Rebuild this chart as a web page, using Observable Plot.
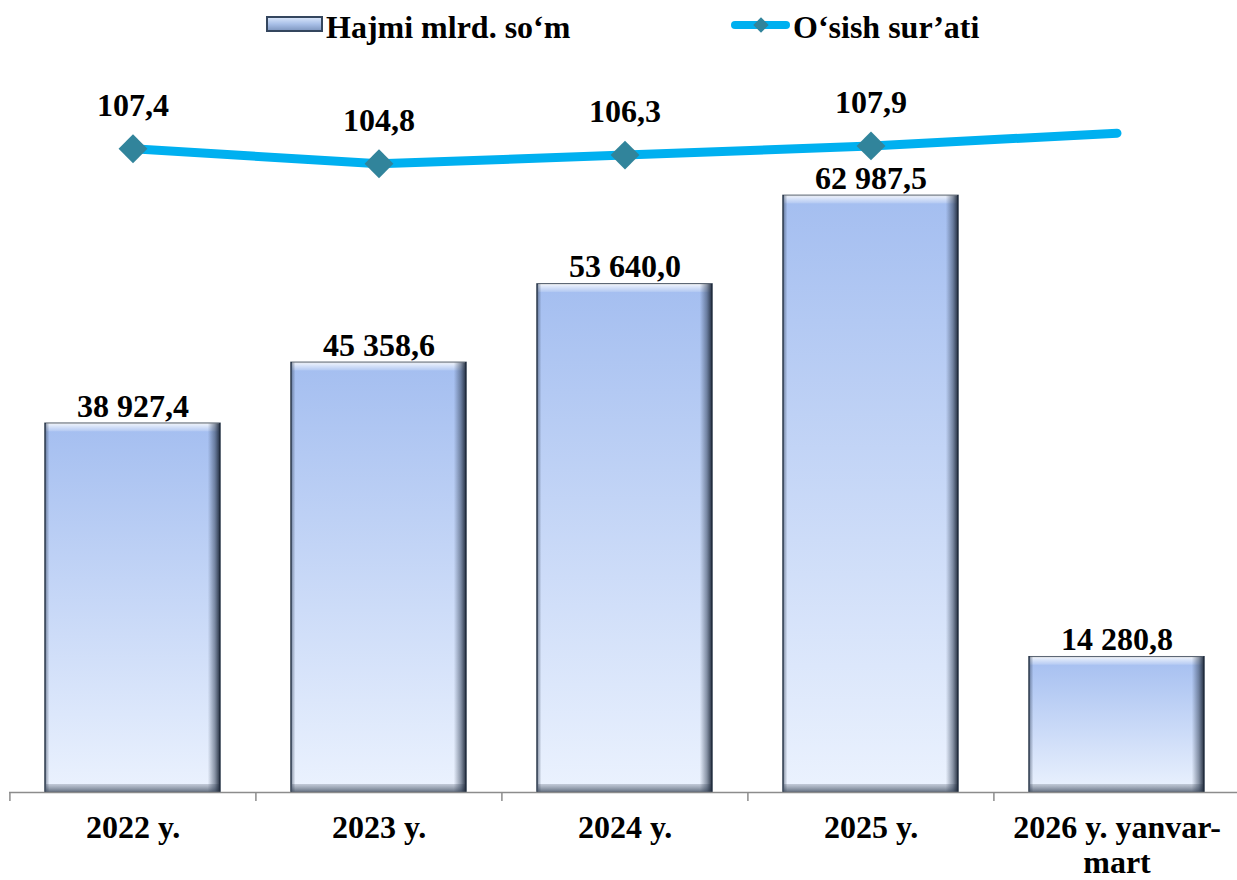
<!DOCTYPE html>
<html>
<head>
<meta charset="utf-8">
<script src="https://cdn.jsdelivr.net/npm/d3@7"></script>
<script src="https://cdn.jsdelivr.net/npm/@observablehq/plot@0.6"></script>
<style>
  html, body { margin: 0; padding: 0; background: #fff; overflow: hidden; }
  #legend { display: block; height: 60px; }
  #legend svg, #chart svg { display: block; }
</style>
</head>
<body>
<div id="legend"></div>
<div id="chart"></div>
<script>
// ---- Data ----
const categories = ["2022 y.", "2023 y.", "2024 y.", "2025 y.", "2026 y. yanvar-\nmart"];
const volume = [38927.4, 45358.6, 53640.0, 62987.5, 14280.8];   // Hajmi mlrd. so‘m
const growth = [107.4, 104.8, 106.3, 107.9, 110.1];             // O‘sish sur’ati
const growthLabeled = [true, true, true, true, false];
const seriesNames = ["Hajmi mlrd. so‘m", "O‘sish sur’ati"];

// ---- Formatting ----
const loc = d3.formatLocale({decimal: ",", thousands: " ", grouping: [3], currency: ["", ""]});
const fmtVol = loc.format(",.1f");
const fmtG = loc.format(".1f");

// secondary axis (growth rate) mapped onto the primary bar axis
const growthToBar = d3.scaleLinear().domain([104.8, 107.4]).range([66382, 67965]);

const rows = categories.map((c, i) => ({
  cat: c, vol: volume[i], g: growth[i], gy: growthToBar(growth[i]), labeled: growthLabeled[i]
}));

const FONT = "'Liberation Serif','Times New Roman',serif";
const W = 1237, H = 820, ML = 9, MR = -3, MT = 69, MB = 88;
const paddingInner = 0.29, paddingOuter = 0.145;
const step = (W - ML - MR) / (categories.length - paddingInner + 2 * paddingOuter);

const defsMark = () => {
  const g = document.createElementNS("http://www.w3.org/2000/svg", "g");
  g.innerHTML = `<defs>
    <linearGradient id="barGrad" x1="0" y1="0" x2="0" y2="1">
      <stop offset="0" stop-color="#a4bef0"/>
      <stop offset="1" stop-color="#ebf2fe"/>
    </linearGradient>
    <linearGradient id="topBevel" x1="0" y1="0" x2="0" y2="1">
      <stop offset="0" stop-color="#ffffff" stop-opacity="0.85"/>
      <stop offset="1" stop-color="#ffffff" stop-opacity="0.15"/>
    </linearGradient>
    <linearGradient id="botBevel" x1="0" y1="0" x2="0" y2="1">
      <stop offset="0" stop-color="#a7b0be" stop-opacity="0.6"/>
      <stop offset="1" stop-color="#5a6678" stop-opacity="0.95"/>
    </linearGradient>
    <linearGradient id="sideShade" x1="0" y1="0" x2="1" y2="0">
      <stop offset="0" stop-color="#2c3a50" stop-opacity="0.55"/>
      <stop offset="0.025" stop-color="#2c3a50" stop-opacity="0"/>
      <stop offset="0.93" stop-color="#2c3a50" stop-opacity="0"/>
      <stop offset="0.97" stop-color="#2c3a50" stop-opacity="0.5"/>
      <stop offset="1" stop-color="#1c2636" stop-opacity="0.95"/>
    </linearGradient>
  </defs>`;
  return g;
};

const chart = Plot.plot({
  width: W, height: H,
  marginLeft: ML, marginRight: MR, marginTop: MT, marginBottom: MB,
  style: {fontFamily: FONT, fontSize: "32px", fontWeight: "bold", color: "#000", background: "#fff", overflow: "visible"},
  x: {domain: categories, paddingInner, paddingOuter, label: null},
  y: {domain: [0, 70000], axis: null, label: null},
  marks: [
    defsMark,
    Plot.barY(rows, {x: "cat", y: "vol", fill: "url(#barGrad)", stroke: "#2f3c4e", strokeWidth: 1.5}),
    Plot.barY(rows, {x: "cat", y1: "vol", y2: "vol", insetBottom: -8, insetLeft: 1, insetRight: 1, fill: "url(#topBevel)"}),
    Plot.barY(rows, {x: "cat", y1: 0, y2: 0, insetTop: -8, insetLeft: 1, insetRight: 1, fill: "url(#botBevel)"}),
    Plot.barY(rows, {x: "cat", y: "vol", fill: "url(#sideShade)"}),
    Plot.ruleY([0], {stroke: "#8c8c8c", strokeWidth: 1.5}),
    Plot.axisX({tickSize: 9, dx: -step / 2, tickFormat: () => "", label: null, stroke: "#8c8c8c", strokeWidth: 1.5}),
    Plot.axisX({tickSize: 0, tickPadding: 21, label: null, fontSize: 32, fontWeight: "bold", lineHeight: 1.08, fill: "#000"}),
    Plot.line(rows, {x: "cat", y: "gy", stroke: "#00b0f0", strokeWidth: 9}),
    Plot.dot(rows.filter(d => d.labeled), {x: "cat", y: "gy", symbol: "diamond2", r: 13, fill: "#31849b", stroke: "none"}),
    Plot.text(rows.filter(d => d.labeled), {x: "cat", y: "gy", text: d => fmtG(d.g), lineAnchor: "top", dy: -56, fontSize: 32, fontWeight: "bold", fill: "#000"}),
    Plot.text(rows, {x: "cat", y: "vol", text: d => fmtVol(d.vol), lineAnchor: "top", dy: -30, fontSize: 32, fontWeight: "bold", fill: "#000"})
  ]
});
document.getElementById("chart").appendChild(chart);

// ---- Legend (above the chart) ----
const legend = d3.select("#legend").append("svg")
  .attr("width", W).attr("height", 60)
  .style("font-family", FONT);
const ldefs = legend.append("defs");
const lg = ldefs.append("linearGradient").attr("id", "legGrad").attr("x1", 0).attr("y1", 0).attr("x2", 0).attr("y2", 1);
lg.append("stop").attr("offset", 0).attr("stop-color", "#dce8fb");
lg.append("stop").attr("offset", 0.5).attr("stop-color", "#a9c0e8");
lg.append("stop").attr("offset", 1).attr("stop-color", "#7d95be");
const s1 = legend.append("g");
s1.append("rect").attr("x", 267).attr("y", 17).attr("width", 55).attr("height", 14)
  .attr("fill", "url(#legGrad)").attr("stroke", "#34465e").attr("stroke-width", 2);
s1.append("text").attr("x", 326).attr("y", 38).attr("font-size", 32).attr("font-weight", "bold").text(seriesNames[0]);
const s2 = legend.append("g");
s2.append("line").attr("x1", 735).attr("x2", 786).attr("y1", 25).attr("y2", 25)
  .attr("stroke", "#00b0f0").attr("stroke-width", 8).attr("stroke-linecap", "round");
s2.append("path").attr("d", d3.symbol(d3.symbolDiamond2, 150)()).attr("transform", "translate(761,25)").attr("fill", "#31849b");
s2.append("text").attr("x", 793).attr("y", 38).attr("font-size", 32).attr("font-weight", "bold").text(seriesNames[1]);
</script>
</body>
</html>
